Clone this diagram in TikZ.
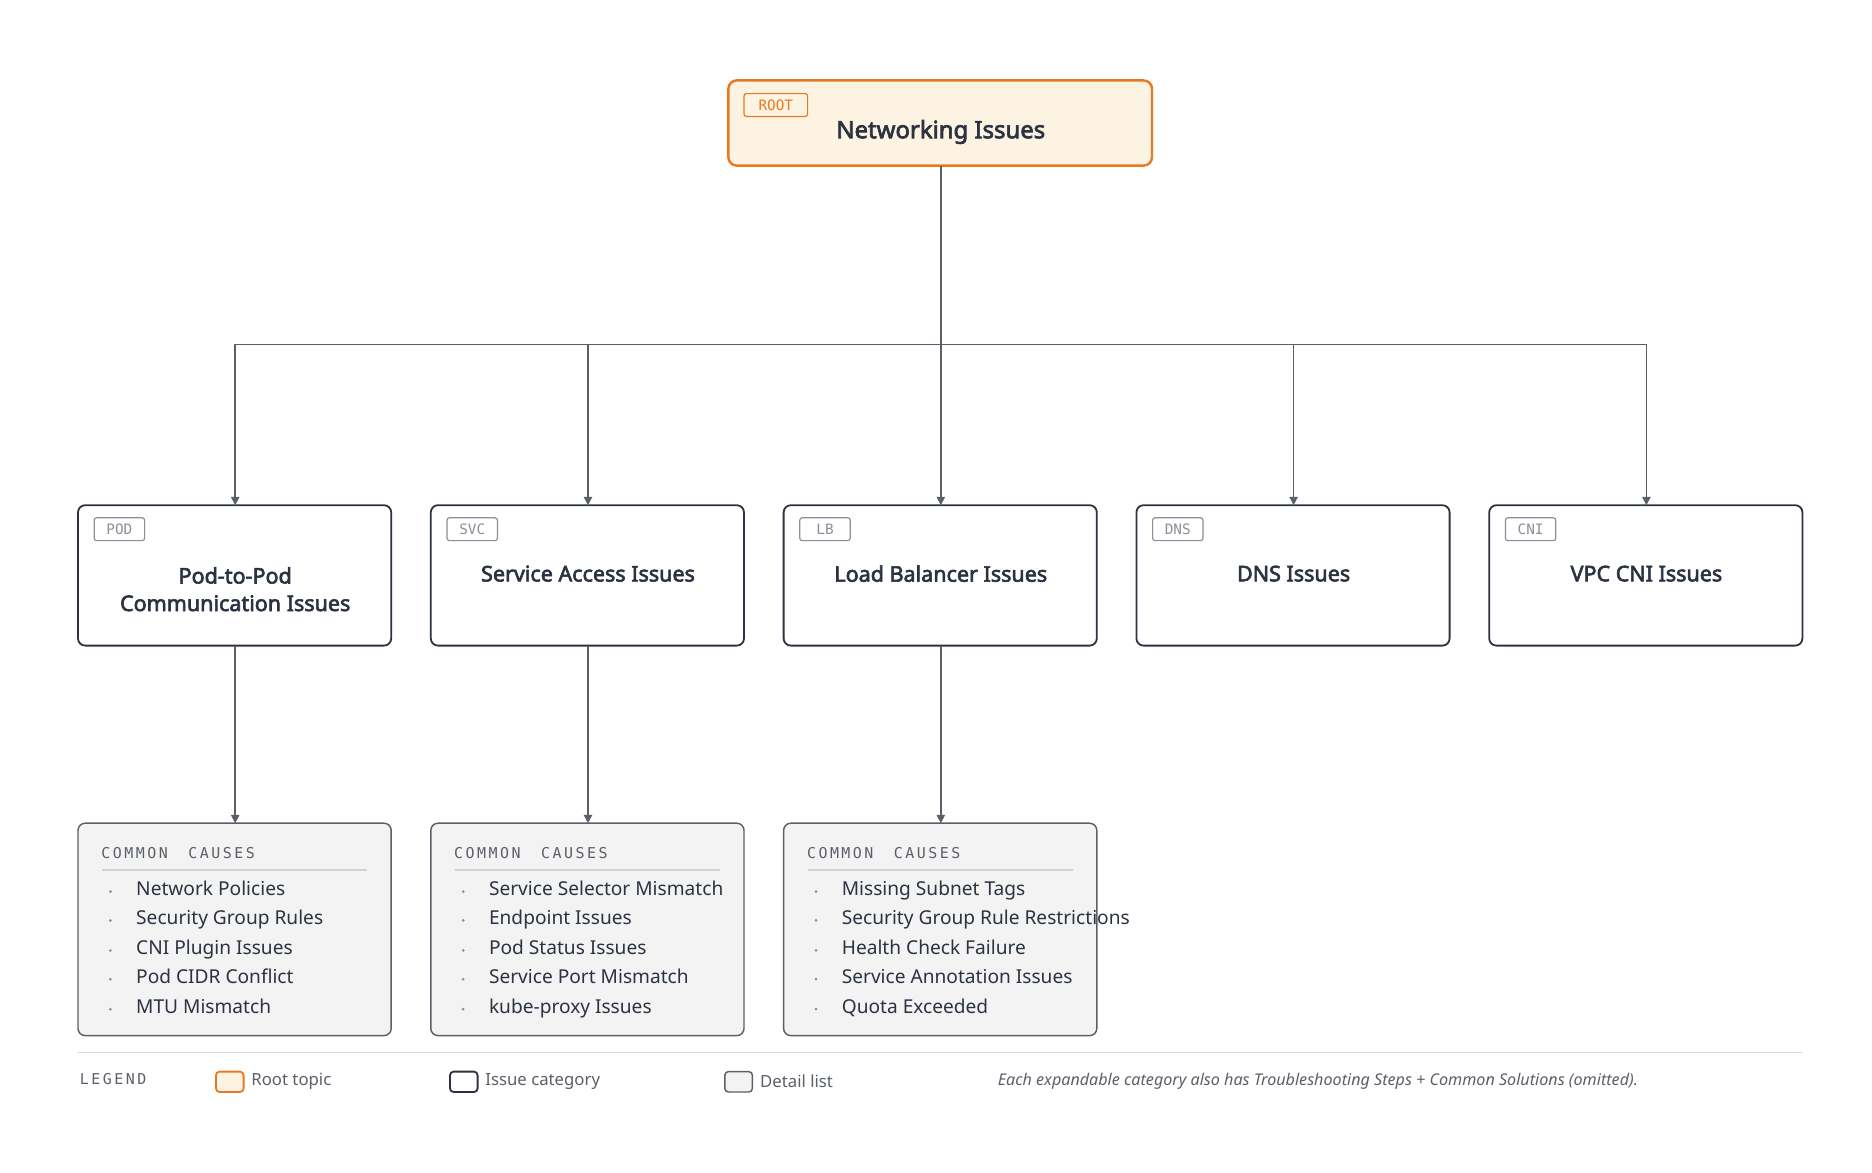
\documentclass[tikz,border=0pt]{standalone}
\usepackage{fontspec}
\setmainfont{Noto Sans}
\newfontfamily\titf{Noto Sans}[AutoFakeBold=2.8]
\newfontfamily\monof{DejaVu Sans Mono}
\usetikzlibrary{arrows.meta}
\definecolor{ink}{HTML}{2B3240}
\definecolor{org}{HTML}{E8791E}
\definecolor{cream}{HTML}{FDF3E2}
\definecolor{gfill}{HTML}{F3F3F4}
\definecolor{gline}{HTML}{5A5F68}
\definecolor{tagc}{HTML}{8A8F98}
\begin{document}
\begin{tikzpicture}[x=1bp,y=-1bp,
  conn/.style={draw=gline,line width=1.2pt},
  arr/.style={conn,-{Triangle[length=7pt,width=7pt]}},
  cat/.style={draw=ink,line width=1.5pt,rounded corners=6pt,fill=white},
  det/.style={draw=gline,line width=1.2pt,rounded corners=6pt,fill=gfill},
  tag/.style={draw=tagc,line width=1pt,rounded corners=2pt,text=tagc,font=\monof\fontsize{12}{13}\selectfont,minimum width=42bp,minimum height=19bp,inner sep=0pt},
  ttl/.style={font=\titf\fontsize{18}{24}\selectfont\bfseries,text=ink,align=center},
  item/.style={anchor=west,font=\fontsize{16}{18}\selectfont,text=ink},
  bul/.style={fill=tagc,circle,inner sep=0pt,minimum size=2.5pt},
  hd/.style={anchor=west,font=\monof\fontsize{12.5}{14}\selectfont,text=gline},
  leg/.style={anchor=west,font=\fontsize{14}{16}\selectfont,text=gline}]
\useasboundingbox (0,0) rectangle (1560,977);
% root
\draw[draw=org,line width=2pt,fill=cream,rounded corners=7pt] (607,67) rectangle (960,138);
\node (root) at (784,102) {};
\coordinate (rootb) at (784,138);
\node[tag,draw=org,text=org,minimum width=53bp] (roottag) at (646.5,87.5) {ROOT};
\node[font=\titf\fontsize{20}{24}\selectfont\bfseries,text=ink] (roott) at (784,110) {Networking Issues};
% bus
\coordinate (bus) at (784,287);
\draw[conn] (rootb) -- (bus);
\draw[conn] (196,287) -- (1372,287);
% categories
\foreach \cx/\tg/\nm in {196/POD/pod,490/SVC/svc,784/LB/lb,1078/DNS/dns,1372/CNI/cni}{
  \draw[cat] (\cx-131,421) rectangle (\cx+130,538);
  \coordinate (\nm top) at (\cx,421);
  \coordinate (\nm bot) at (\cx,538);
  \coordinate (\nm bus) at (\cx,287);
  \node[tag] (\nm tag) at (\cx-96.5,441) {\tg};
}
\node[ttl] (podt) at (196,491) {Pod-to-Pod\\[-1pt]Communication Issues};
\node[ttl] (svct) at (490,478) {Service Access Issues};
\node[ttl] (lbt) at (784,478) {Load Balancer Issues};
\node[ttl] (dnst) at (1078,478) {DNS Issues};
\node[ttl] (cnit) at (1372,478) {VPC CNI Issues};
\foreach \nm in {pod,svc,lb,dns,cni} \draw[arr] (\nm bus) -- (\nm top);
% details
\foreach \cx/\nm/\a/\b/\c/\d/\e in {196/pod/Network Policies/Security Group Rules/CNI Plugin Issues/Pod CIDR Conflict/MTU Mismatch,490/svc/Service Selector Mismatch/Endpoint Issues/Pod Status Issues/Service Port Mismatch/kube-proxy Issues,784/lb/Missing Subnet Tags/Security Group Rule Restrictions/Health Check Failure/Service Annotation Issues/Quota Exceeded}{
  \draw[det] (\cx-131,686) rectangle (\cx+130,863);
  \coordinate (\nm dtop) at (\cx,686);
  \draw[arr] (\nm bot) -- (\nm dtop);
  \node[hd] at (\cx-115,711) {C\,O\,M\,M\,O\,N\,\ \ C\,A\,U\,S\,E\,S};
  \draw[draw=black!18,line width=1pt] (\cx-111,725) -- (\cx+110,725);
  \foreach \y/\t in {742/\a,766/\b,791/\c,815/\d,840/\e}{
    \node[bul] at (\cx-104,\y+1) {};
    \node[item,text height=12bp,text depth=3bp] at (\cx-86,\y) {\t};
  }
}
% legend
\draw[draw=black!15,line width=1pt] (65,877) -- (1502,877);
\node[hd] at (63,899) {L\,E\,G\,E\,N\,D};
\draw[draw=org,fill=cream,line width=1.5pt,rounded corners=3pt] (180,893) rectangle (203,910);
\node[leg] at (206,901) {Root topic};
\draw[draw=ink,fill=white,line width=1.5pt,rounded corners=3pt] (375,893) rectangle (398,910);
\node[leg] at (401,901) {Issue category};
\draw[draw=gline,fill=gfill,line width=1.2pt,rounded corners=3pt] (604,893) rectangle (627,910);
\node[leg] at (630,901) {Detail list};
\node[leg,font=\fontsize{13.5}{16}\selectfont\itshape] at (828,901) {Each expandable category also has Troubleshooting Steps + Common Solutions (omitted).};
\end{tikzpicture}
\end{document}
